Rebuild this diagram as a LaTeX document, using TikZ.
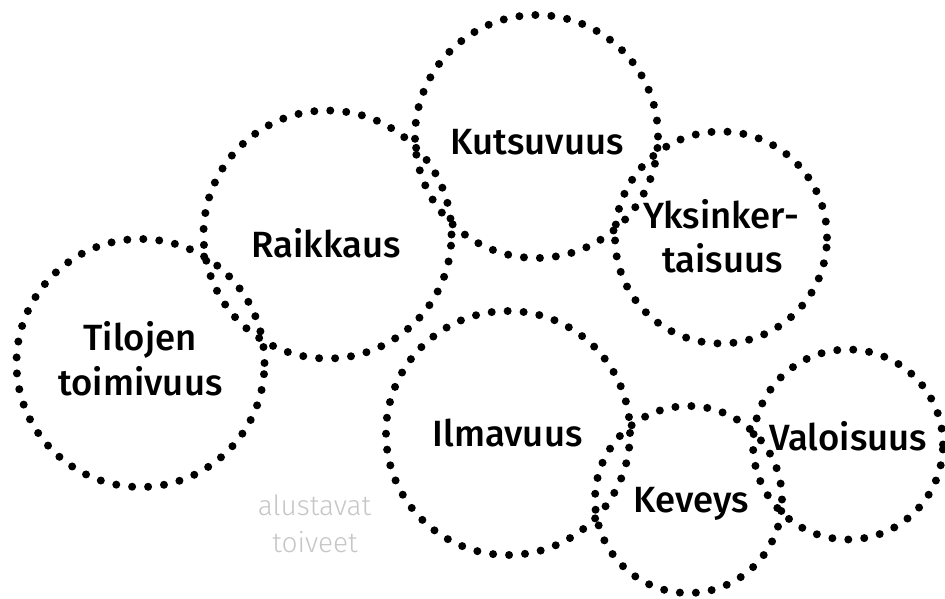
\documentclass[tikz,border=0pt]{standalone}
\usepackage{fontspec}
\setmainfont{Fira Sans}
\newfontfamily\fmed{Fira Sans Medium}
\newfontfamily\flight{Fira Sans Light}
\definecolor{faint}{HTML}{C6C6C6}
\begin{document}
\begin{tikzpicture}[x=1pt,y=-1pt,
  ring/.style={circle, draw=black, line width=8pt, line cap=round,
    dash pattern=on 0pt off 16pt, inner sep=0pt, outer sep=0pt},
  word/.style={anchor=base, inner sep=0pt, font=\fmed\fontsize{36.5}{42}\selectfont},
  note/.style={anchor=base, inner sep=0pt, text=faint, font=\flight\fontsize{28}{32}\selectfont}]
\useasboundingbox (0,0) rectangle (945,598);
\node[ring, minimum size=248pt] (tilojen) at (140.5,363) {};
\node[ring, minimum size=248pt] (raikkaus) at (327.5,234.5) {};
\node[ring, minimum size=243pt] (kutsu) at (536.5,136.5) {};
\node[ring, minimum size=212pt] (yksin) at (721,237.5) {};
\node[ring, minimum size=244pt] (ilma) at (508,433) {};
\node[ring, minimum size=187pt] (keveys) at (688.5,499.5) {};
\node[ring, minimum size=190pt] (valo) at (848,444.5) {};
\node[word] (t1a) at (140,350) {Tilojen};
\node[word] (t1b) at (140.5,395) {toimivuus};
\node[word] (t2) at (326,257) {Raikkaus};
\node[word] (t3) at (537,154) {Kutsuvuus};
\node[word] (t4a) at (721,228) {Yksinker-};
\node[word] (t4b) at (722.5,272) {taisuus};
\node[word] (t5) at (507.5,446) {Ilmavuus};
\node[word] (t6) at (691.5,512) {Keveys};
\node[word] (t7) at (848,450) {Valoisuus};
\node[note] (n1) at (314.5,515) {alustavat};
\node[note] (n2) at (315,552) {toiveet};
\end{tikzpicture}
\end{document}
